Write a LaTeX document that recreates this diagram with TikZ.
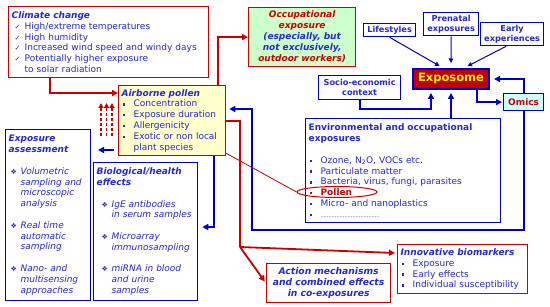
\documentclass[tikz,border=0pt]{standalone}
\usepackage{fontspec}
\setmainfont{DejaVu Sans}
\usetikzlibrary{arrows.meta, positioning, shapes.geometric, calc}
\definecolor{boxred}{RGB}{204,0,0}
\definecolor{boxblue}{RGB}{0,0,204}
\definecolor{txtblue}{RGB}{40,40,210}
\definecolor{pollenfill}{RGB}{255,255,204}
\definecolor{occfill}{RGB}{204,255,204}
\definecolor{omicsfill}{RGB}{204,255,255}
\definecolor{expored}{RGB}{192,0,0}
\tikzset{
    redbox/.style={draw=boxred, line width=1.3pt, fill=white, anchor=north west, align=left, inner xsep=3pt, inner ysep=3pt, text=txtblue, font=\fontsize{9}{10.8}\selectfont},
    bluebox/.style={redbox, draw=boxblue},
    smallbox/.style={draw=boxblue, line width=1.3pt, fill=white, anchor=north west, align=center, inner sep=0pt, text=txtblue, font=\fontsize{8.2}{9.6}\selectfont\bfseries},
    redarrow/.style={-{Triangle[length=6pt,width=6pt]}, draw=boxred, line width=1.8pt},
    redline/.style={draw=boxred, line width=1.8pt},
    bluearrow/.style={-{Triangle[length=6pt,width=6pt]}, draw=boxblue, line width=1.8pt},
    thinarrow/.style={-{Triangle[length=4.5pt,width=4.5pt]}, draw=boxblue, line width=1pt},
    dasharrow/.style={-{Triangle[length=5pt,width=5pt]}, draw=boxred, line width=1.8pt, dash pattern=on 3pt off 2pt}
}
\newcommand{\ttl}[1]{\textbf{\textit{#1}}}
\newcommand{\chk}{\hspace*{3pt}\makebox[10pt][l]{\scriptsize ✓}}
\newcommand{\sq}{\hspace*{1pt}\makebox[11pt][l]{\raisebox{0.25ex}{\rule{2.4pt}{2.4pt}}}}
\newcommand{\dmd}{\hspace*{2pt}\makebox[10pt][l]{\scriptsize ❖}}
\newcommand{\ind}{\hspace*{12pt}}
\begin{document}
\begin{tikzpicture}[x=1pt, y=-1pt]
  \useasboundingbox (0,0) rectangle (550,307);
  % boxes
  \node[redbox, text width=194pt, minimum height=71pt] (climate) at (8,6)
    {\ttl{Climate change}\\
     \chk High/extreme temperatures\\
     \chk High humidity\\
     \chk Increased wind speed and windy days\\
     \chk Potentially higher exposure\\
     \hspace*{13pt}to solar radiation};
  \node[redbox, fill=occfill, align=center, text width=101pt, minimum height=59pt,
        font=\fontsize{9}{11}\selectfont\bfseries\itshape] (occup) at (248,7)
    {\textcolor{boxred}{Occupational}\\
     \textcolor{boxred}{exposure}\\
     (especially, but\\
     not exclusively,\\
     \textcolor{boxred}{outdoor workers)}};
  \node[smallbox, minimum width=52pt, minimum height=13pt] (life) at (363,23) {Lifestyles};
  \node[smallbox, minimum width=55pt, minimum height=23pt] (prenatal) at (423,12) {Prenatal\\exposures};
  \node[smallbox, minimum width=63pt, minimum height=23pt] (early) at (480,22) {Early\\experiences};
  \node[smallbox, minimum width=82pt, minimum height=24pt] (socio) at (318,75) {Socio-economic\\context};
  \node[smallbox, fill=expored, line width=2pt, text=yellow, minimum width=76pt, minimum height=20pt,
        font=\fontsize{11.5}{13}\selectfont\bfseries] (expo) at (412,68) {Exposome};
  \node[smallbox, fill=omicsfill, text=boxred, minimum width=40pt, minimum height=17pt,
        font=\fontsize{9}{10}\selectfont\bfseries] (omics) at (503,93) {Omics};
  \node[redbox, fill=pollenfill, text width=101pt, minimum height=70pt] (pollen) at (118,85)
    {\ttl{Airborne pollen}\\
     \sq Concentration\\
     \sq Exposure duration\\
     \sq Allergenicity\\
     \sq Exotic or non local\\
     \ind plant species};
  \node[bluebox, text width=189pt, minimum height=104pt] (env) at (305,118)
    {\textbf{Environmental and occupational}\\
     \textbf{exposures}\\[10.8pt]
     \sq Ozone, N\textsubscript{2}O, VOCs etc.\\
     \sq Particulate matter\\
     \sq Bacteria, virus, fungi, parasites\\
     \textcolor{boxred}{\sq\textbf{Pollen}}\\
     \sq Micro- and nanoplastics\\
     \sq\makebox[60pt][l]{\leaders\hbox to 1.6pt{\hss\tiny.\hss}\hfill}};
  \node[bluebox, text width=79pt, minimum height=171pt, font=\fontsize{9}{10.8}\selectfont\itshape] (assess) at (5,129)
    {\textbf{Exposure}\\
     \textbf{assessment}\\[10.8pt]
     \dmd Volumetric\\
     \ind sampling and\\
     \ind microscopic\\
     \ind analysis\\[10.8pt]
     \dmd Real time\\
     \ind automatic\\
     \ind sampling\\[10.8pt]
     \dmd Nano- and\\
     \ind multisensing\\
     \ind approaches};
  \node[bluebox, text width=98pt, minimum height=138pt, font=\fontsize{9}{10.8}\selectfont\itshape] (bio) at (93,162)
    {\textbf{Biological/health}\\
     \textbf{effects}\\[10.8pt]
     \hspace*{3pt}\dmd IgE antibodies\\
     \hspace*{3pt}\ind in serum samples\\[10.8pt]
     \hspace*{3pt}\dmd Microarray\\
     \hspace*{3pt}\ind immunosampling\\[10.8pt]
     \hspace*{3pt}\dmd miRNA in blood\\
     \hspace*{3pt}\ind and urine\\
     \hspace*{3pt}\ind samples};
  \node[redbox, text width=124pt, minimum height=49pt] (innov) at (397,244)
    {\ttl{Innovative biomarkers}\\
     \sq Exposure\\
     \sq Early effects\\
     \sq Individual susceptibility};
  \node[redbox, align=center, text width=118pt, minimum height=39pt,
        font=\fontsize{9.2}{10.8}\selectfont\bfseries\itshape] (action) at (266,263)
    {Action mechanisms\\
     and combined effects\\
     in co-exposures};
  \node[draw=boxred, line width=1pt, ellipse, minimum width=80pt, minimum height=11pt, inner sep=0pt] (pmark) at (337,192) {};
  % red connectors
  \draw[redarrow] ([xshift=42pt]climate.south west) |- ([yshift=-8pt]pollen.north west);
  \draw[redarrow] ([xshift=-8pt]pollen.north east) |- (occup.west);
  \coordinate (rsplit) at (240,247);
  \draw[redline] (pollen.east) -| (rsplit);
  \draw[redarrow] (rsplit) -- ([yshift=-9pt, xshift=-2pt]innov.north west);
  \draw[redarrow, shorten >=2pt] (rsplit) -- (action.west);
  \draw[boxred, line width=0.8pt] ([yshift=3pt]pollen.south east) -- (pmark.west);
  \foreach \i/\dx in {1/101,2/106.5,3/112} {
      \coordinate (dsb\i) at (\dx,136);
      \coordinate (dst\i) at (\dx,103);
      \draw[dasharrow] (dsb\i) -- (dst\i);
  }
  % blue connectors
  \coordinate (bltip) at (98,150);
  \draw[bluearrow, shorten <=4pt] (pollen.west |- bltip) -- (bltip);
  \draw[bluearrow] ([xshift=-12pt]pollen.south east) |- ([yshift=-65pt, xshift=4pt]bio.north east);
  \coordinate (bcorner) at (252,230);
  \draw[bluearrow] (omics.south) |- (bcorner) |- ([yshift=-24pt, xshift=3pt]pollen.north east);
  \draw[bluearrow, shorten >=3pt] (env.north -| expo.south) -- (expo.south);
  \draw[bluearrow, shorten >=3pt] (socio.south) -- ++(0,-9pt) -| ([xshift=-20pt]expo.south);
  \draw[bluearrow, shorten >=1pt] ([xshift=-13pt]expo.south east) |- (omics.west);
  \draw[bluearrow, shorten >=4pt] (omics.north) |- (expo.east);
  \draw[thinarrow, shorten >=4pt] (life.south) -- ([xshift=-8pt]expo.north);
  \draw[thinarrow, shorten >=5pt] (prenatal.south) -- (expo.north);
  \draw[thinarrow, shorten >=4pt] ([xshift=-6pt]early.south) -- ([xshift=13pt]expo.north);
\end{tikzpicture}
\end{document}
